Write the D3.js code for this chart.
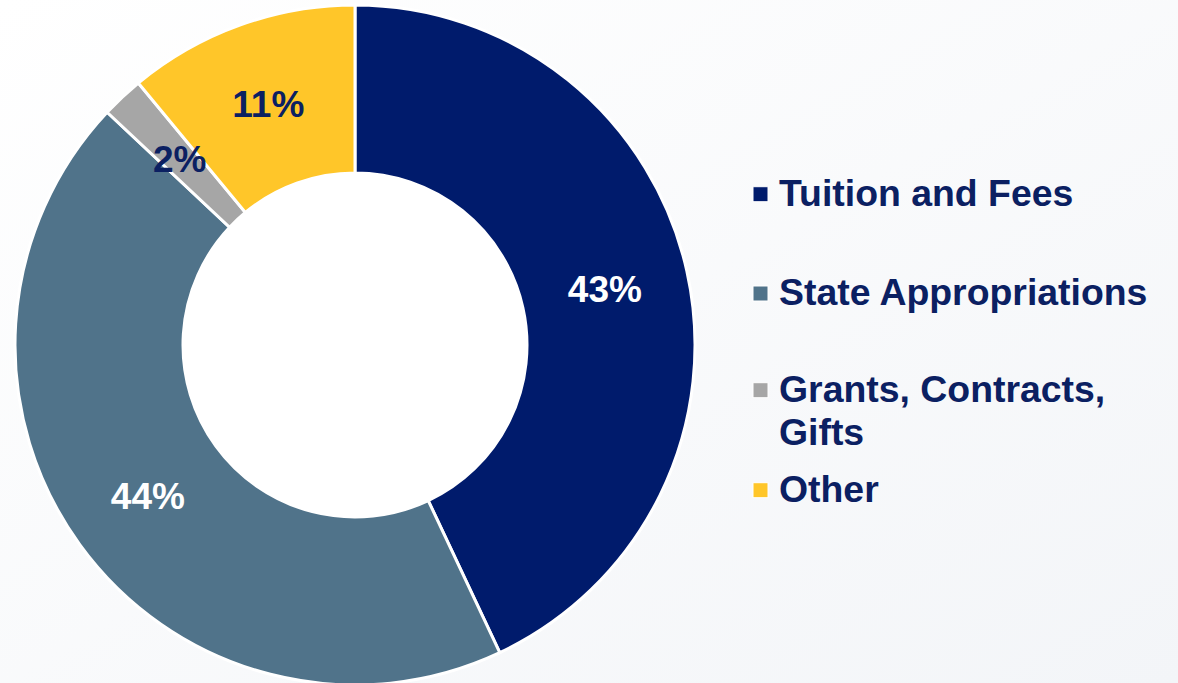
<!DOCTYPE html>
<html>
<head>
<meta charset="utf-8">
<script src="https://cdn.jsdelivr.net/npm/d3@7"></script>
<style>
  html, body { margin: 0; padding: 0; }
  body { width: 1178px; height: 683px; overflow: hidden; }
  svg { display: block; font-family: "Liberation Sans", Arial, sans-serif; }
</style>
</head>
<body>
<svg id="chart" width="1178" height="683"></svg>
<script>
const categories = ["Tuition and Fees", "State Appropriations", "Grants, Contracts, Gifts", "Other"];
const values = [43, 44, 2, 11];
const percentLabels = ["43%", "44%", "2%", "11%"];
const legendLines = [["Tuition and Fees"], ["State Appropriations"], ["Grants, Contracts,", "Gifts"], ["Other"]];
const colors = ["#001b6c", "#50738a", "#a6a6a6", "#ffc629"];
const labelColors = ["#ffffff", "#ffffff", "#0b2062", "#0b2062"];

const W = 1178, H = 683;
const svg = d3.select("#chart");

const defs = svg.append("defs");
const grad = defs.append("linearGradient").attr("id", "bg")
  .attr("x1", "0%").attr("y1", "0%").attr("x2", "100%").attr("y2", "100%");
grad.append("stop").attr("offset", "0%").attr("stop-color", "#ffffff");
grad.append("stop").attr("offset", "100%").attr("stop-color", "#f3f5f8");
svg.append("rect").attr("width", W).attr("height", H).attr("fill", "url(#bg)");

const cx = 355, cy = 345, rOuter = 340, rInner = 172;
const pie = d3.pie().value(d => d).sort(null);
const arcs = pie(values);
const arc = d3.arc().innerRadius(rInner).outerRadius(rOuter);
const labelArc = d3.arc().innerRadius((rInner + rOuter) / 2).outerRadius((rInner + rOuter) / 2);

const g = svg.append("g").attr("transform", `translate(${cx},${cy})`);
g.append("circle").attr("r", rInner).attr("fill", "#ffffff");
g.selectAll("path.slice").data(arcs).join("path")
  .attr("class", "slice")
  .attr("d", arc)
  .attr("fill", (d, i) => colors[i])
  .attr("stroke", "#ffffff")
  .attr("stroke-width", 3)
  .attr("stroke-linejoin", "miter");

g.selectAll("text.pct").data(arcs).join("text")
  .attr("class", "pct")
  .attr("transform", d => `translate(${labelArc.centroid(d)})`)
  .attr("text-anchor", "middle")
  .attr("dy", "0.36em")
  .attr("font-size", 37)
  .attr("font-weight", "bold")
  .attr("fill", (d, i) => labelColors[i])
  .text((d, i) => percentLabels[i]);

// Legend
const legendYs = [205.7, 305, 401.7, 501.7];
const lg = svg.append("g");
categories.forEach((c, i) => {
  const y = legendYs[i];
  lg.append("rect")
    .attr("x", 753).attr("y", y - 19).attr("width", 15).attr("height", 15)
    .attr("fill", colors[i])
    .attr("stroke", "#ffffff").attr("stroke-width", 1);
  const t = lg.append("text")
    .attr("x", 779).attr("y", y)
    .attr("font-size", 37.4).attr("font-weight", "bold")
    .attr("fill", "#0b2062");
  legendLines[i].forEach((line, j) => {
    t.append("tspan").attr("x", 779).attr("dy", j === 0 ? 0 : 43.3).text(line);
  });
});
</script>
</body>
</html>
